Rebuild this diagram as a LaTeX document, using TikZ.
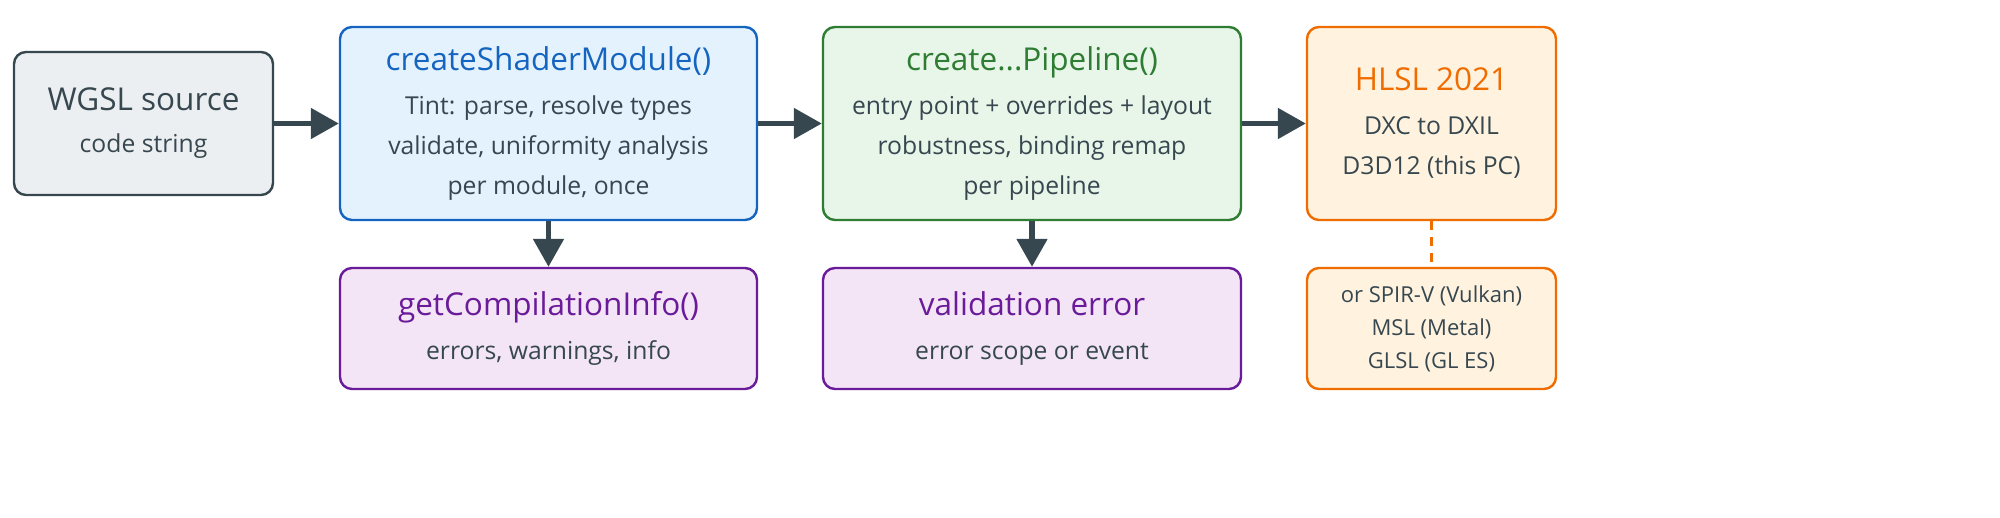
\documentclass[tikz,border=0pt]{standalone}
\usepackage{fontspec}
\setmainfont{Open Sans}
\usetikzlibrary{arrows.meta,positioning}
\definecolor{ink}{HTML}{37474F}
\definecolor{grayfill}{HTML}{ECEFF1}
\definecolor{bluefill}{HTML}{E3F2FD}
\definecolor{blueline}{HTML}{1565C0}
\definecolor{greenfill}{HTML}{E8F5E9}
\definecolor{greenline}{HTML}{2E7D32}
\definecolor{orangefill}{HTML}{FFF3E0}
\definecolor{orangeline}{HTML}{EF6C00}
\definecolor{purplefill}{HTML}{F3E5F5}
\definecolor{purpleline}{HTML}{6A1B9A}
\newcommand{\ttl}[2]{{\fontsize{31.5}{36}\selectfont\color{#1}#2}}
\begin{document}
\begin{tikzpicture}[
		x=1pt, y=-1pt,
		box/.style={draw, line width=2.4pt, rounded corners=12pt, align=center, text=ink,
			font=\fontsize{24.7}{40}\selectfont, inner sep=0pt},
		top/.style={box, minimum height=193pt},
		low/.style={box, minimum height=121pt},
		flow/.style={draw=ink, line width=5.2pt, -{Triangle[length=28pt,width=30pt]}},
	]
		\useasboundingbox (0,0) rectangle (2000,517);
		\node[box, draw=ink, fill=grayfill, minimum width=259pt, minimum height=143pt] (src) at (143.5,123.5)
			{\ttl{ink}{WGSL source}\\[2pt] code string};
		\node[top, draw=blueline, fill=bluefill, minimum width=417pt] (csm) at (548.5,123.5)
			{\ttl{blueline}{createShaderModule()}\\[4pt] Tint: parse, resolve types\\ validate, uniformity analysis\\ per module, once};
		\node[top, draw=greenline, fill=greenfill, minimum width=418pt] (cpl) at (1032,123.5)
			{\ttl{greenline}{create...Pipeline()}\\[4pt] entry point + overrides + layout\\ robustness, binding remap\\ per pipeline};
		\node[top, draw=orangeline, fill=orangefill, minimum width=249pt] (hlsl) at (1431.5,123.5)
			{\ttl{orangeline}{HLSL 2021}\\[4pt] DXC to DXIL\\ D3D12 (this PC)};
		\node[low, draw=purpleline, fill=purplefill, minimum width=417pt] (info) at (548.5,328.5)
			{\ttl{purpleline}{getCompilationInfo()}\\[4pt] errors, warnings, info};
		\node[low, draw=purpleline, fill=purplefill, minimum width=418pt] (verr) at (1032,328.5)
			{\ttl{purpleline}{validation error}\\[4pt] error scope or event};
		\node[low, draw=orangeline, fill=orangefill, minimum width=249pt, font=\fontsize{22}{33}\selectfont] (alt) at (1431.5,328.5)
			{or SPIR-V (Vulkan)\\ MSL (Metal)\\ GLSL (GL ES)};

		\draw[flow] (src) -- (csm);
		\draw[flow] (csm) -- (cpl);
		\draw[flow] (cpl) -- (hlsl);
		\draw[flow] (csm) -- (info);
		\draw[flow] (cpl) -- (verr);
		\draw[orangeline, line width=3pt, dash pattern=on 9pt off 7pt] (hlsl) -- (alt);
	\end{tikzpicture}
\end{document}
